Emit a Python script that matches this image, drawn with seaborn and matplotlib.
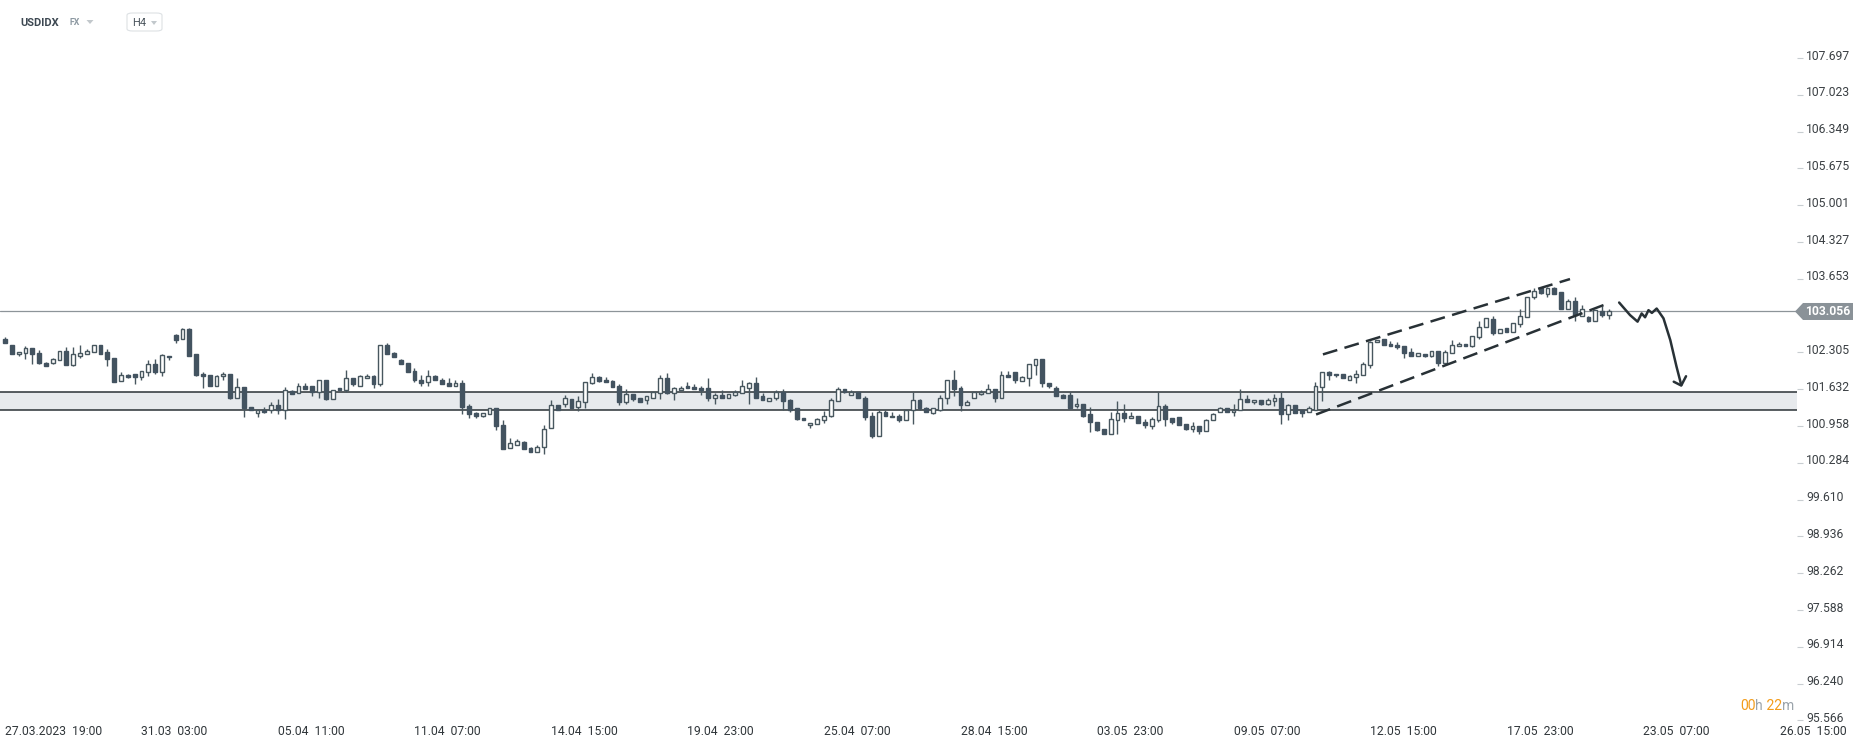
import numpy as np
import matplotlib
matplotlib.use('Agg')
import matplotlib.pyplot as plt
import seaborn as sns
from matplotlib.patches import Polygon, FancyBboxPatch
from matplotlib.transforms import ScaledTranslation

# H4 candles of USDIDX (index 0 = 27.03.2023 19:00)
opens = [
    102.56, 102.44, 102.27, 102.29, 102.38, 102.29, 102.12, 102.12, 102.16, 102.33,
    102.07, 102.25, 102.27, 102.31, 102.44, 102.31, 102.20, 101.78, 101.89, 101.92,
    101.85, 101.94, 102.09, 101.94, 102.25, 102.62, 102.56, 102.73, 102.28, 101.92,
    101.89, 101.70, 101.87, 101.92, 101.48, 101.68, 101.31, 101.20, 101.26, 101.25,
    101.34, 101.25, 101.60, 101.56, 101.69, 101.69, 101.58, 101.80, 101.46, 101.65,
    101.61, 101.83, 101.69, 101.83, 101.87, 101.72, 102.44, 102.29, 102.16, 102.12,
    101.96, 101.80, 101.76, 101.87, 101.80, 101.74, 101.69, 101.74, 101.32, 101.19,
    101.15, 101.17, 101.28, 100.97, 100.55, 100.62, 100.66, 100.56, 100.48, 100.57,
    100.93, 101.34, 101.36, 101.45, 101.30, 101.39, 101.74, 101.85, 101.81, 101.78,
    101.69, 101.39, 101.54, 101.48, 101.43, 101.48, 101.56, 101.83, 101.56, 101.61,
    101.70, 101.67, 101.65, 101.65, 101.48, 101.52, 101.48, 101.52, 101.56, 101.65,
    101.74, 101.50, 101.41, 101.47, 101.58, 101.43, 101.28, 101.10, 100.97, 100.99,
    101.06, 101.14, 101.41, 101.63, 101.52, 101.58, 101.48, 101.15, 100.78, 101.21,
    101.12, 101.15, 101.06, 101.25, 101.43, 101.28, 101.19, 101.26, 101.47, 101.80,
    101.65, 101.34, 101.48, 101.54, 101.56, 101.63, 101.48, 101.89, 101.94, 101.78,
    101.83, 102.07, 102.18, 101.74, 101.65, 101.52, 101.52, 101.32, 101.37, 101.17,
    101.03, 100.90, 100.82, 101.06, 101.19, 101.10, 101.14, 101.03, 100.95, 101.06,
    101.32, 101.10, 101.12, 100.99, 100.90, 100.95, 100.86, 101.06, 101.21, 101.28,
    101.21, 101.25, 101.45, 101.39, 101.43, 101.36, 101.41, 101.48, 101.17, 101.34,
    101.25, 101.21, 101.26, 101.67, 101.94, 101.92, 101.92, 101.81, 101.85, 101.89,
    102.07, 102.49, 102.55, 102.46, 102.44, 102.42, 102.31, 102.25, 102.27, 102.24,
    102.33, 102.11, 102.29, 102.42, 102.46, 102.42, 102.58, 102.77, 102.91, 102.66,
    102.75, 102.68, 102.82, 102.95, 103.32, 103.48, 103.37, 103.48, 103.41, 103.11,
    103.24, 102.97, 102.95, 102.89, 103.06, 102.99,
]
highs = [
    102.58, 102.44, 102.31, 102.42, 102.38, 102.35, 102.14, 102.20, 102.33, 102.40,
    102.40, 102.44, 102.36, 102.45, 102.45, 102.36, 102.20, 101.94, 101.91, 101.92,
    101.96, 102.16, 102.18, 102.28, 102.25, 102.64, 102.75, 102.75, 102.28, 101.94,
    101.89, 101.89, 101.94, 101.92, 101.83, 101.68, 101.31, 101.26, 101.30, 101.39,
    101.45, 101.67, 101.62, 101.74, 101.74, 101.69, 101.81, 101.80, 101.61, 101.65,
    101.98, 101.83, 101.89, 101.92, 101.89, 102.44, 102.47, 102.31, 102.18, 102.12,
    102.03, 101.89, 101.98, 101.90, 101.83, 101.83, 101.81, 101.81, 101.37, 101.22,
    101.19, 101.28, 101.28, 101.06, 100.73, 100.72, 100.68, 100.57, 100.62, 100.97,
    101.43, 101.34, 101.52, 101.45, 101.50, 101.76, 101.93, 101.87, 101.85, 101.80,
    101.72, 101.63, 101.54, 101.48, 101.50, 101.58, 101.89, 101.93, 101.67, 101.69,
    101.76, 101.72, 101.70, 101.83, 101.56, 101.61, 101.54, 101.61, 101.80, 101.76,
    101.85, 101.56, 101.48, 101.61, 101.63, 101.45, 101.28, 101.10, 101.01, 101.10,
    101.24, 101.47, 101.67, 101.63, 101.61, 101.58, 101.50, 101.21, 101.25, 101.26,
    101.21, 101.17, 101.26, 101.58, 101.45, 101.30, 101.28, 101.52, 101.81, 101.98,
    101.70, 101.43, 101.58, 101.61, 101.72, 101.63, 101.96, 101.96, 101.94, 101.87,
    102.09, 102.18, 102.18, 101.74, 101.69, 101.54, 101.58, 101.47, 101.37, 101.30,
    101.03, 100.90, 101.21, 101.41, 101.37, 101.21, 101.15, 101.08, 101.12, 101.58,
    101.36, 101.10, 101.12, 100.99, 101.03, 100.96, 101.08, 101.19, 101.30, 101.28,
    101.36, 101.63, 101.52, 101.43, 101.43, 101.47, 101.54, 101.59, 101.37, 101.34,
    101.25, 101.32, 101.76, 101.94, 101.96, 101.92, 101.92, 101.90, 101.98, 102.14,
    102.51, 102.53, 102.55, 102.51, 102.49, 102.42, 102.38, 102.29, 102.27, 102.33,
    102.33, 102.35, 102.53, 102.49, 102.46, 102.60, 102.88, 102.93, 102.97, 102.73,
    102.75, 102.84, 103.11, 103.33, 103.48, 103.50, 103.50, 103.50, 103.41, 103.28,
    103.32, 103.17, 102.97, 103.08, 103.15, 103.11,
]
lows = [
    102.47, 102.27, 102.25, 102.19, 102.09, 102.09, 102.05, 102.09, 102.16, 102.07,
    102.05, 102.20, 102.27, 102.31, 102.27, 102.05, 101.76, 101.78, 101.83, 101.73,
    101.81, 101.87, 101.92, 101.87, 102.16, 102.47, 102.56, 102.25, 101.87, 101.66,
    101.70, 101.70, 101.81, 101.46, 101.48, 101.13, 101.25, 101.13, 101.19, 101.19,
    101.17, 101.09, 101.54, 101.56, 101.64, 101.51, 101.48, 101.44, 101.46, 101.61,
    101.59, 101.69, 101.69, 101.83, 101.66, 101.70, 102.27, 102.22, 102.09, 101.94,
    101.76, 101.70, 101.70, 101.80, 101.72, 101.69, 101.69, 101.17, 101.11, 101.11,
    101.13, 101.17, 100.89, 100.53, 100.55, 100.62, 100.53, 100.48, 100.48, 100.45,
    100.93, 101.25, 101.30, 101.28, 101.23, 101.29, 101.72, 101.77, 101.76, 101.67,
    101.35, 101.36, 101.42, 101.40, 101.37, 101.47, 101.46, 101.54, 101.43, 101.61,
    101.65, 101.63, 101.52, 101.41, 101.36, 101.48, 101.48, 101.50, 101.56, 101.37,
    101.48, 101.43, 101.41, 101.43, 101.26, 101.21, 101.06, 101.06, 100.93, 100.99,
    101.01, 101.12, 101.41, 101.56, 101.52, 101.47, 101.06, 100.73, 100.78, 101.15,
    101.12, 101.04, 101.06, 101.00, 101.26, 101.21, 101.17, 101.23, 101.37, 101.50,
    101.23, 101.34, 101.47, 101.52, 101.56, 101.39, 101.48, 101.85, 101.74, 101.78,
    101.70, 101.89, 101.67, 101.65, 101.50, 101.48, 101.28, 101.28, 101.13, 100.84,
    100.86, 100.82, 100.81, 100.81, 101.03, 101.10, 101.01, 100.92, 100.90, 101.04,
    100.95, 100.99, 100.97, 100.88, 100.84, 100.82, 100.86, 101.06, 101.21, 101.21,
    101.15, 101.25, 101.39, 101.36, 101.34, 101.34, 101.32, 101.00, 101.06, 101.19,
    101.12, 101.21, 101.26, 101.41, 101.81, 101.85, 101.83, 101.81, 101.74, 101.89,
    102.02, 102.49, 102.44, 102.42, 102.36, 102.20, 102.24, 102.25, 102.22, 102.22,
    102.05, 102.07, 102.29, 102.42, 102.42, 102.40, 102.55, 102.77, 102.62, 102.66,
    102.68, 102.68, 102.77, 102.95, 103.28, 103.37, 103.32, 103.37, 103.11, 103.10,
    102.89, 102.97, 102.86, 102.89, 102.95, 102.91,
]
closes = [
    102.47, 102.27, 102.31, 102.38, 102.28, 102.11, 102.05, 102.18, 102.33, 102.07,
    102.27, 102.29, 102.33, 102.44, 102.27, 102.18, 101.77, 101.89, 101.85, 101.85,
    101.96, 102.09, 101.94, 102.26, 102.22, 102.54, 102.73, 102.25, 101.90, 101.87,
    101.70, 101.87, 101.92, 101.48, 101.68, 101.29, 101.25, 101.26, 101.22, 101.34,
    101.25, 101.61, 101.54, 101.70, 101.64, 101.58, 101.80, 101.46, 101.61, 101.61,
    101.83, 101.72, 101.87, 101.87, 101.72, 102.44, 102.27, 102.22, 102.09, 101.94,
    101.80, 101.75, 101.87, 101.80, 101.72, 101.69, 101.74, 101.31, 101.17, 101.15,
    101.19, 101.28, 100.95, 100.54, 100.64, 100.68, 100.53, 100.48, 100.58, 100.90,
    101.34, 101.25, 101.47, 101.29, 101.41, 101.76, 101.85, 101.79, 101.76, 101.67,
    101.39, 101.54, 101.46, 101.40, 101.50, 101.58, 101.83, 101.56, 101.65, 101.65,
    101.65, 101.63, 101.61, 101.48, 101.52, 101.48, 101.54, 101.58, 101.69, 101.74,
    101.48, 101.43, 101.48, 101.58, 101.41, 101.26, 101.09, 101.06, 101.01, 101.08,
    101.15, 101.43, 101.63, 101.58, 101.58, 101.47, 101.13, 100.78, 101.21, 101.15,
    101.15, 101.06, 101.26, 101.43, 101.28, 101.21, 101.28, 101.48, 101.80, 101.63,
    101.34, 101.39, 101.58, 101.58, 101.63, 101.48, 101.89, 101.85, 101.80, 101.85,
    102.09, 102.18, 101.74, 101.69, 101.50, 101.48, 101.29, 101.37, 101.14, 101.03,
    100.88, 100.82, 101.08, 101.19, 101.10, 101.15, 101.01, 100.97, 101.08, 101.32,
    101.08, 101.03, 100.97, 100.90, 100.95, 100.86, 101.06, 101.17, 101.28, 101.21,
    101.26, 101.45, 101.39, 101.43, 101.36, 101.43, 101.48, 101.17, 101.34, 101.19,
    101.19, 101.28, 101.69, 101.94, 101.90, 101.89, 101.83, 101.87, 101.92, 102.09,
    102.49, 102.53, 102.44, 102.42, 102.40, 102.29, 102.25, 102.29, 102.24, 102.33,
    102.11, 102.31, 102.44, 102.46, 102.42, 102.60, 102.78, 102.93, 102.66, 102.73,
    102.68, 102.84, 102.97, 103.33, 103.44, 103.39, 103.48, 103.37, 103.11, 103.24,
    102.99, 103.10, 102.89, 103.08, 102.99, 103.056,
]

date_labels = [
    '27.03.2023  19:00', '31.03  03:00', '05.04  11:00', '11.04  07:00',
    '14.04  15:00', '19.04  23:00', '25.04  07:00', '28.04  15:00',
    '03.05  23:00', '09.05  07:00', '12.05  15:00', '17.05  23:00',
    '23.05  07:00', '26.05  15:00',
]
price_ticks = [95.566, 96.240, 96.914, 97.588, 98.262, 98.936, 99.610, 100.284,
               100.958, 101.632, 102.305, 103.653, 104.327, 105.001, 105.675,
               106.349, 107.023, 107.697]

last_price = 103.056
zone_low, zone_high = 101.25, 101.58

# channel drawn on the chart (candle index, price)
upper_x, upper_y = [193.1, 229.3], [102.27, 103.65]
lower_x, lower_y = [192.1, 235.2], [101.17, 103.22]

# hand drawn scenario arrow
path_x = [236.5, 238.1, 239.2, 239.8, 240.3, 240.8, 241.3, 242.0, 243.0, 244.0, 244.9, 245.6]
path_y = [103.22, 102.99, 102.87, 103.02, 102.95, 103.08, 103.03, 103.11, 102.93, 102.53, 102.05, 101.71]
head_x = [244.5, 245.6, 246.3]
head_y = [101.77, 101.70, 101.87]

sns.set_theme(style='white')
plt.rcParams['font.family'] = ['Roboto', 'DejaVu Sans']

W, H = 1866, 748
fig = plt.figure(figsize=(W / 100, H / 100), dpi=100)
ax = fig.add_axes([0, 1 - 722 / H, 1797 / W, (722 - 40) / H])

dark = '#435360'
edge = '#48575f'

o = np.array(opens)
c = np.array(closes)
x = np.arange(len(o))
up = c >= o
bottom = np.minimum(o, c)
height = np.maximum(np.abs(c - o), 0.015)

# zone and current price
ax.axhspan(zone_low, zone_high, color='#e7eaed', zorder=0, lw=0)
ax.axhline(zone_low, color='#2a3136', lw=1.1, zorder=1)
ax.axhline(zone_high, color='#2a3136', lw=1.1, zorder=1)
ax.axhline(last_price, color='#8d9499', lw=0.9, zorder=1)

# candles
ax.vlines(x, lows, highs, color=edge, lw=1.0, zorder=2)
ax.bar(x, height, bottom=bottom, width=0.56,
       color=np.where(up, 'white', dark), edgecolor=np.where(up, edge, dark),
       linewidth=1.0, zorder=3)

# channel
ax.plot(upper_x, upper_y, color='#283136', lw=1.8, dashes=(6, 3), zorder=4)
ax.plot(lower_x, lower_y, color='#283136', lw=1.8, dashes=(6, 3), zorder=4)

# arrow
sns.lineplot(x=path_x, y=path_y, ax=ax, color='#283136', lw=1.8, sort=False,
             estimator=None, solid_capstyle='round', solid_joinstyle='round', zorder=4)
sns.lineplot(x=head_x, y=head_y, ax=ax, color='#283136', lw=1.8, sort=False,
             estimator=None, solid_capstyle='round', solid_joinstyle='round', zorder=4)

ax.set_xlim(-0.73, 262.56)
ax.set_ylim(95.538, 108.028)
ax.set_xlabel('')
ax.set_ylabel('')
for s in ax.spines.values():
    s.set_visible(False)

ax.yaxis.tick_right()
ax.set_yticks(price_ticks)
ax.set_yticklabels([f'{v:.3f}' for v in price_ticks])
ax.tick_params(axis='y', right=True, length=4.5, width=0.8, color='#c8cdd1',
               labelsize=8.7, labelcolor='#3b4044', pad=2)
# labels sit a little above their tick in the reference
for lab in ax.get_yticklabels():
    lab.set_transform(lab.get_transform() + ScaledTranslation(0, 3.5 / 100, fig.dpi_scale_trans))

ax.set_xticks(np.arange(0, 20 * len(date_labels), 20))
ax.set_xticklabels(date_labels, ha='left')
ax.tick_params(axis='x', bottom=True, length=0, labelsize=8.7,
               labelcolor='#30363a', pad=2.2)

# current price tag
fig.canvas.draw()
yp = ax.transData.transform((0, last_price))[1]
tag = Polygon([(1795 / W, yp / H), (1803 / W, (yp + 8.5) / H), (1853 / W, (yp + 8.5) / H),
               (1853 / W, (yp - 8.5) / H), (1803 / W, (yp - 8.5) / H)],
              closed=True, transform=fig.transFigure, facecolor='#8a9298',
              edgecolor='none', zorder=5)
fig.add_artist(tag)
fig.text(1828 / W, yp / H, f'{last_price:.3f}', color='white', fontsize=8.7,
         fontweight='bold', ha='center', va='center', zorder=6)

# header
fig.text(20 / W, 1 - 22.5 / H, 'USDIDX', fontsize=8, fontweight='bold',
         color='#3d4852', va='center')
fig.text(70 / W, 1 - 22.5 / H, 'FX', fontsize=6.3, fontweight='bold',
         color='#8d99a2', va='center')
fig.add_artist(Polygon([(86.5 / W, 1 - 20 / H), (93.5 / W, 1 - 20 / H), (90 / W, 1 - 24 / H)],
                       transform=fig.transFigure, facecolor='#c2c8cc', edgecolor='none'))
fig.add_artist(FancyBboxPatch((127 / W, 1 - 31 / H), 35 / W, 18 / H,
                              boxstyle='round,pad=0,rounding_size=0.003',
                              transform=fig.transFigure, facecolor='white',
                              edgecolor='#dde1e4', lw=0.8))
fig.text(132 / W, 1 - 22.5 / H, 'H4', fontsize=8, color='#4a545c', va='center')
fig.add_artist(Polygon([(151 / W, 1 - 21 / H), (157 / W, 1 - 21 / H), (154 / W, 1 - 25 / H)],
                       transform=fig.transFigure, facecolor='#c2c8cc', edgecolor='none'))

# countdown
orange = '#f39c1a'
grey = '#9ba4ab'
t1 = fig.text(1740 / W, 1 - 713 / H, '00', fontsize=10, color=orange, va='bottom')
t2 = ax.annotate('h', xy=(1, 0), xycoords=t1, fontsize=10, color=grey, va='bottom', ha='left')
t3 = ax.annotate(' 22', xy=(1, 0), xycoords=t2, fontsize=10, color=orange, va='bottom', ha='left')
ax.annotate('m', xy=(1, 0), xycoords=t3, fontsize=10, color=grey, va='bottom', ha='left')

fig.savefig('out.png', dpi=100)
